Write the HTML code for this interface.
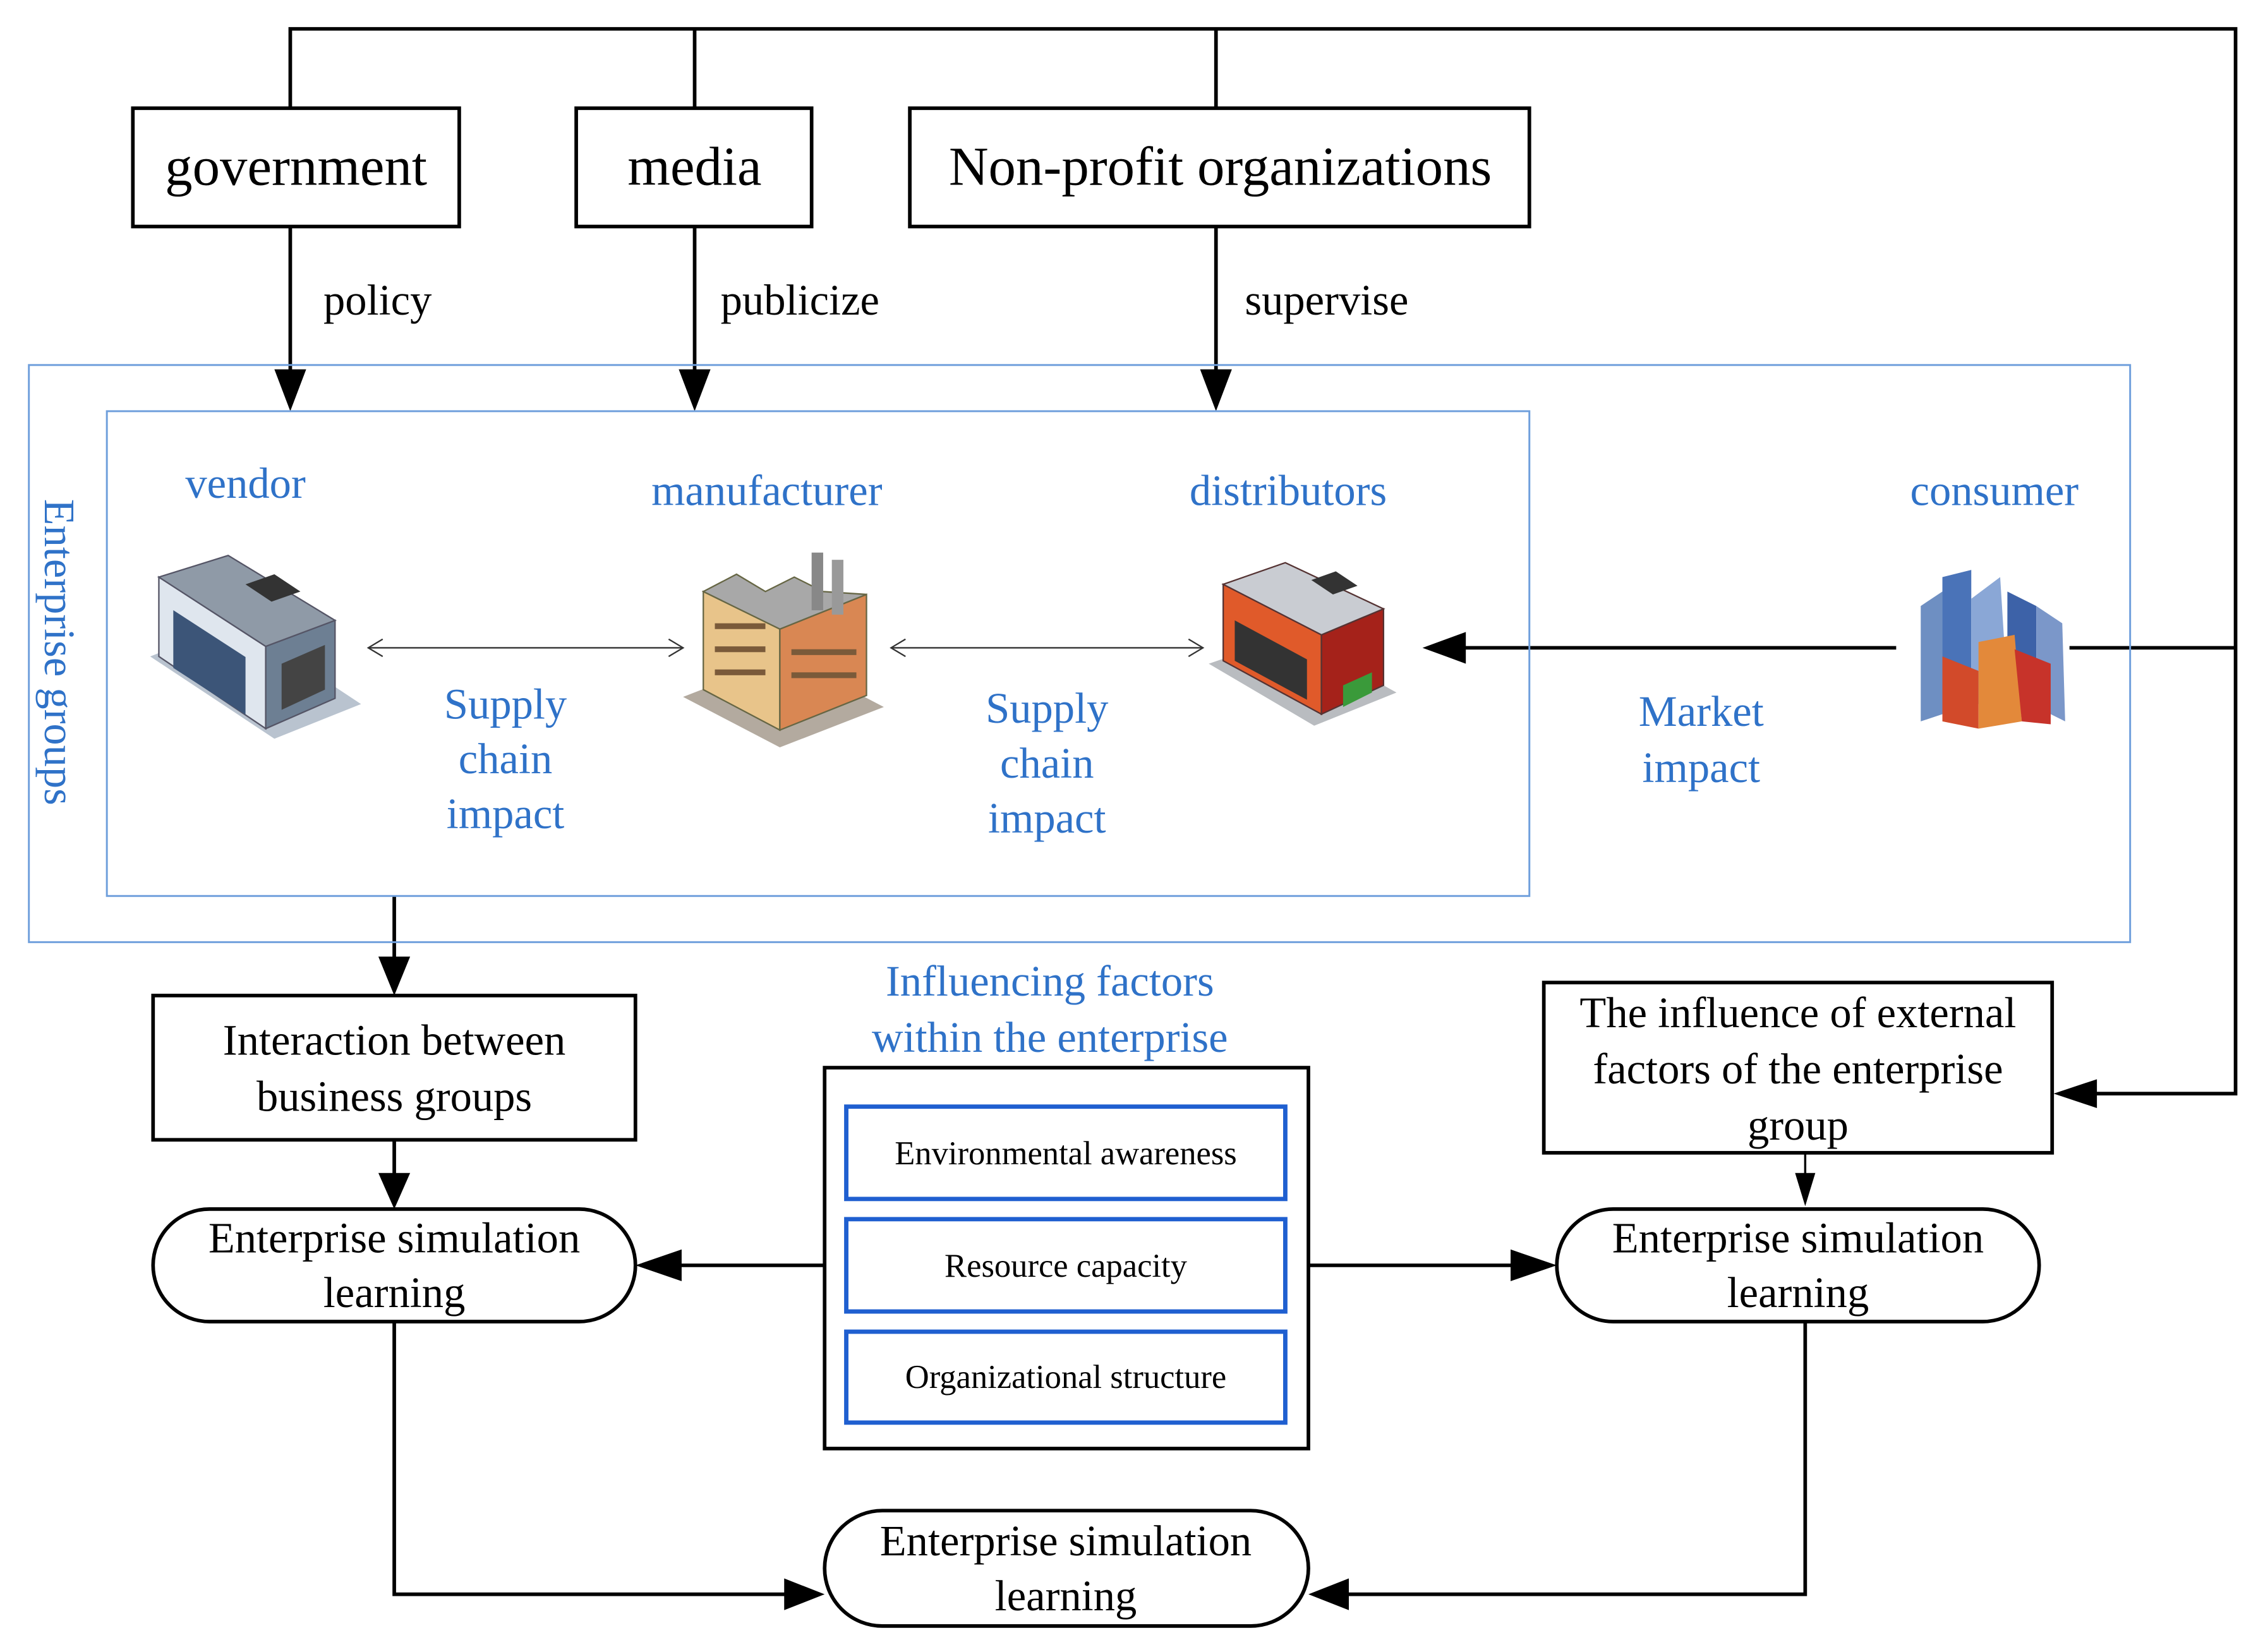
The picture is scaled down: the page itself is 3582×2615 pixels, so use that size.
<!DOCTYPE html>
<html><head><meta charset="utf-8">
<style>
html,body{margin:0;padding:0;background:#fff;}
svg{display:block;}
text{font-family:"Liberation Serif",serif;}
</style></head>
<body>
<svg width="3582" height="2615" viewBox="0 0 1567 1145" preserveAspectRatio="none" xmlns="http://www.w3.org/2000/svg">
<rect width="1567" height="1145" fill="#fff"/>
<g stroke="#000" stroke-width="2.5" fill="none">
<polyline points="201,75 201,20 1548,20 1548,758 1450,758"/>
<line x1="481" y1="20" x2="481" y2="75"/>
<line x1="842" y1="20" x2="842" y2="75"/>
<rect x="92" y="75" width="226" height="82"/>
<rect x="399" y="75" width="163" height="82"/>
<rect x="630" y="75" width="429" height="82"/>
<line x1="201" y1="157" x2="201" y2="258"/>
<line x1="481" y1="157" x2="481" y2="258"/>
<line x1="842" y1="157" x2="842" y2="258"/>
<line x1="1433" y1="449" x2="1548" y2="449"/>
<line x1="1313" y1="449" x2="1012" y2="449"/>
<line x1="273" y1="621" x2="273" y2="665"/>
<rect x="106" y="690" width="334" height="100"/>
<line x1="273" y1="790" x2="273" y2="815"/>
<rect x="106" y="838" width="334" height="78" rx="39"/>
<rect x="571" y="740" width="335" height="264"/>
<line x1="571" y1="877" x2="468" y2="877"/>
<line x1="906" y1="877" x2="1050" y2="877"/>
<rect x="1069" y="681" width="352" height="118"/>
<rect x="1078" y="838" width="334" height="78" rx="39"/>
<rect x="571" y="1047" width="335" height="80" rx="40"/>
<polyline points="273,916 273,1105 545,1105"/>
<polyline points="1250,916 1250,1105 932,1105"/>
</g>
<line x1="1250" y1="799" x2="1250" y2="815" stroke="#000" stroke-width="1.5"/>
<g fill="#000">
<polygon points="190,256 212,256 201,285"/>
<polygon points="470,256 492,256 481,285"/>
<polygon points="831,256 853,256 842,285"/>
<polygon points="1422,758 1452,748 1452,768"/>
<polygon points="985,449 1015,438 1015,460"/>
<polygon points="262,663 284,663 273,690"/>
<polygon points="262,813 284,813 273,838"/>
<polygon points="440,877 472,866 472,888"/>
<polygon points="1078,877 1046,866 1046,888"/>
<polygon points="1243,813 1257,813 1250,836"/>
<polygon points="571,1105 543,1094 543,1116"/>
<polygon points="906,1105 934,1094 934,1116"/>
</g>
<rect x="20" y="253" width="1455" height="400" fill="none" stroke="#6f9fdc" stroke-width="1.3"/>
<rect x="74" y="285" width="985" height="336" fill="none" stroke="#6f9fdc" stroke-width="1.3"/>
<g stroke="#1f5fd0" stroke-width="3" fill="none">
<rect x="586" y="767" width="304" height="64"/>
<rect x="586" y="845" width="304" height="64"/>
<rect x="586" y="923" width="304" height="63"/>
</g>
<g stroke="#333" stroke-width="1" fill="none">
<line x1="255" y1="449" x2="473" y2="449"/>
<polyline points="265,443 255,449 265,455"/>
<polyline points="463,443 473,449 463,455"/>
<line x1="617" y1="449" x2="833" y2="449"/>
<polyline points="627,443 617,449 627,455"/>
<polyline points="823,443 833,449 823,455"/>
</g>
<g fill="#000" text-anchor="middle">
<text x="205" y="128" font-size="38">government</text>
<text x="481" y="128" font-size="38">media</text>
<text x="845" y="128" font-size="38">Non-profit organizations</text>
<text x="273" y="731" font-size="30">Interaction between</text>
<text x="273" y="770" font-size="30">business groups</text>
<text x="273" y="868" font-size="30">Enterprise simulation</text>
<text x="273" y="906" font-size="30">learning</text>
<text x="738" y="807" font-size="23">Environmental awareness</text>
<text x="738" y="885" font-size="23">Resource capacity</text>
<text x="738" y="962" font-size="23">Organizational structure</text>
<text x="1245" y="712" font-size="30">The influence of external</text>
<text x="1245" y="751" font-size="30">factors of the enterprise</text>
<text x="1245" y="790" font-size="30">group</text>
<text x="1245" y="868" font-size="30">Enterprise simulation</text>
<text x="1245" y="906" font-size="30">learning</text>
<text x="738" y="1078" font-size="30">Enterprise simulation</text>
<text x="738" y="1116" font-size="30">learning</text>
</g>
<g fill="#000" font-size="30">
<text x="224" y="218">policy</text>
<text x="499" y="218">publicize</text>
<text x="862" y="218">supervise</text>
</g>
<g fill="#2f72c8" font-size="30" text-anchor="middle">
<text x="170" y="345">vendor</text>
<text x="531" y="350">manufacturer</text>
<text x="892" y="350">distributors</text>
<text x="1381" y="350">consumer</text>
<text x="350" y="498">Supply</text>
<text x="350" y="536">chain</text>
<text x="350" y="574">impact</text>
<text x="725" y="501">Supply</text>
<text x="725" y="539">chain</text>
<text x="725" y="577">impact</text>
<text x="1178" y="503">Market</text>
<text x="1178" y="542">impact</text>
<text x="727" y="690">Influencing factors</text>
<text x="727" y="729">within the enterprise</text>
<text transform="translate(31,452) rotate(90)" font-size="30">Enterprise groups</text>
</g>
<g>
<polygon points="104,455 190,512 250,488 164,431" fill="#b9c3cf"/>
<polygon points="110,400 110,455 184,505 184,448" fill="#dfe6ee" stroke="#556" stroke-width="1"/>
<polygon points="184,448 184,505 232,484 232,430" fill="#6d7f93" stroke="#556" stroke-width="1"/>
<polygon points="110,400 158,385 232,430 184,448" fill="#8f9aa7" stroke="#556" stroke-width="1"/>
<rect x="120" y="425" width="50" height="40" fill="#3c5578" transform="skewY(33) translate(0,-80)"/>
<polygon points="195,460 225,447 225,478 195,492" fill="#444"/>
<polygon points="170,405 190,398 208,410 188,417" fill="#333"/>
</g>
<g>
<polygon points="473,483 540,518 612,490 545,455" fill="#b3aa9f"/>
<polygon points="487,410 487,478 540,506 540,436" fill="#e8c48a" stroke="#664" stroke-width="1"/>
<polygon points="540,436 540,506 600,482 600,412" fill="#d98753" stroke="#664" stroke-width="1"/>
<polygon points="487,410 510,398 530,410 550,400 570,410 600,412 540,436" fill="#a8a8a8" stroke="#664" stroke-width="1"/>
<rect x="562" y="383" width="8" height="40" fill="#888"/>
<rect x="576" y="388" width="8" height="38" fill="#999"/>
<g fill="#7a5a3a"><rect x="495" y="432" width="35" height="4"/><rect x="495" y="448" width="35" height="4"/><rect x="495" y="464" width="35" height="4"/><rect x="548" y="450" width="45" height="4"/><rect x="548" y="466" width="45" height="4"/></g>
</g>
<g>
<polygon points="837,460 910,503 967,480 895,440" fill="#b9bcc0"/>
<polygon points="847,405 847,458 915,495 915,440" fill="#e05a2a" stroke="#533" stroke-width="1"/>
<polygon points="915,440 915,495 958,475 958,422" fill="#a5221a" stroke="#533" stroke-width="1"/>
<polygon points="847,405 890,390 958,422 915,440" fill="#c9ccd2" stroke="#533" stroke-width="1"/>
<polygon points="855,430 905,457 905,485 855,458" fill="#333"/>
<polygon points="930,475 950,466 950,480 930,490" fill="#3a9a3a"/>
<polygon points="908,402 925,396 940,406 923,412" fill="#333"/>
</g>
<g>
<polygon points="1330,420 1345,410 1345,495 1330,500" fill="#6e8fc2"/>
<polygon points="1345,400 1365,395 1365,490 1345,495" fill="#4a73b8"/>
<polygon points="1365,415 1385,400 1390,480 1365,490" fill="#8aa7d6"/>
<polygon points="1390,410 1410,420 1410,490 1390,480" fill="#3d62a8"/>
<polygon points="1410,420 1428,432 1430,500 1410,490" fill="#7b97c9"/>
<polygon points="1345,455 1370,465 1370,505 1345,500" fill="#d24a2a"/>
<polygon points="1370,445 1395,440 1400,500 1370,505" fill="#e3893a"/>
<polygon points="1395,450 1420,460 1420,502 1400,500" fill="#c7332a"/>
</g>
</svg>
</body></html>
